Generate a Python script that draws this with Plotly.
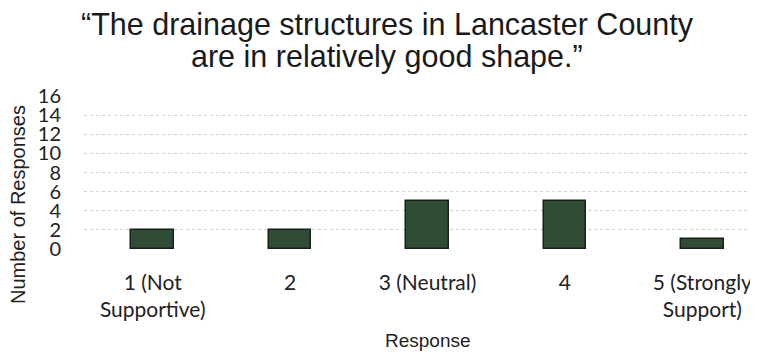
import plotly.graph_objects as go

# survey answers
responses = ["1 (Not<br>Supportive)", "2", "3 (Neutral)", "4", "5 (Strongly<br>Support)"]
counts = [2, 2, 5, 5, 1]
y_ticks = [0, 2, 4, 6, 8, 10, 12, 14, 16]

title_lines = ["\u201cThe drainage structures in Lancaster County",
               "are in relatively good shape.\u201d"]

# page body has an 8px margin, so the figure is drawn 8px smaller/shifted
fig = go.Figure()
fig.add_trace(go.Bar(
    x=list(range(len(responses))), y=counts,
    width=0.31,
    marker=dict(color="#2f4d34", line=dict(color="#152015", width=1.5)),
))

fig.update_layout(
    width=750, height=344,
    margin=dict(l=76, r=0, t=88, b=103),
    paper_bgcolor="white", plot_bgcolor="white",
    showlegend=False,
    bargap=0,
)
fig.update_xaxes(
    range=[-0.5, 4.405], automargin=False,
    tickmode="array", tickvals=list(range(len(responses))), ticktext=responses,
    tickfont=dict(family="Lato", size=21, color="#222"),
    showgrid=False, zeroline=False, showline=False, ticks="",
    ticklabelstandoff=19,
)
fig.update_yaxes(
    range=[0, 16], automargin=False,
    tickmode="array", tickvals=y_ticks,
    tickfont=dict(family="Lato", size=20, color="#222"),
    showgrid=True, gridcolor="#d0d0d0", gridwidth=1, griddash="dot",
    zeroline=False, showline=False, ticks="",
    ticklabelstandoff=22,
)

# title as two centred lines
fig.add_annotation(text=title_lines[0], xref="paper", yref="paper",
                   x=0.5, y=1, xshift=-34, yshift=96 - 24, showarrow=False,
                   xanchor="center", yanchor="middle",
                   font=dict(family="Liberation Sans", size=30.5, color="#1a1a1a"))
fig.add_annotation(text=title_lines[1], xref="paper", yref="paper",
                   x=0.5, y=1, xshift=-34, yshift=96 - 56, showarrow=False,
                   xanchor="center", yanchor="middle",
                   font=dict(family="Liberation Sans", size=30.5, color="#1a1a1a"))

# axis titles
fig.add_annotation(text="Number of Responses", xref="paper", yref="paper",
                   x=0, y=0, xshift=-84 + 18, yshift=249 - 205, textangle=-90,
                   showarrow=False, xanchor="center", yanchor="middle",
                   font=dict(family="Liberation Sans", size=20, color="#222"))
fig.add_annotation(text="Response", xref="x", yref="paper",
                   x=2, y=0, yshift=-(340 - 249), showarrow=False,
                   xanchor="center", yanchor="middle",
                   font=dict(family="Liberation Sans", size=19, color="#222"))

fig.write_html("out.html")
